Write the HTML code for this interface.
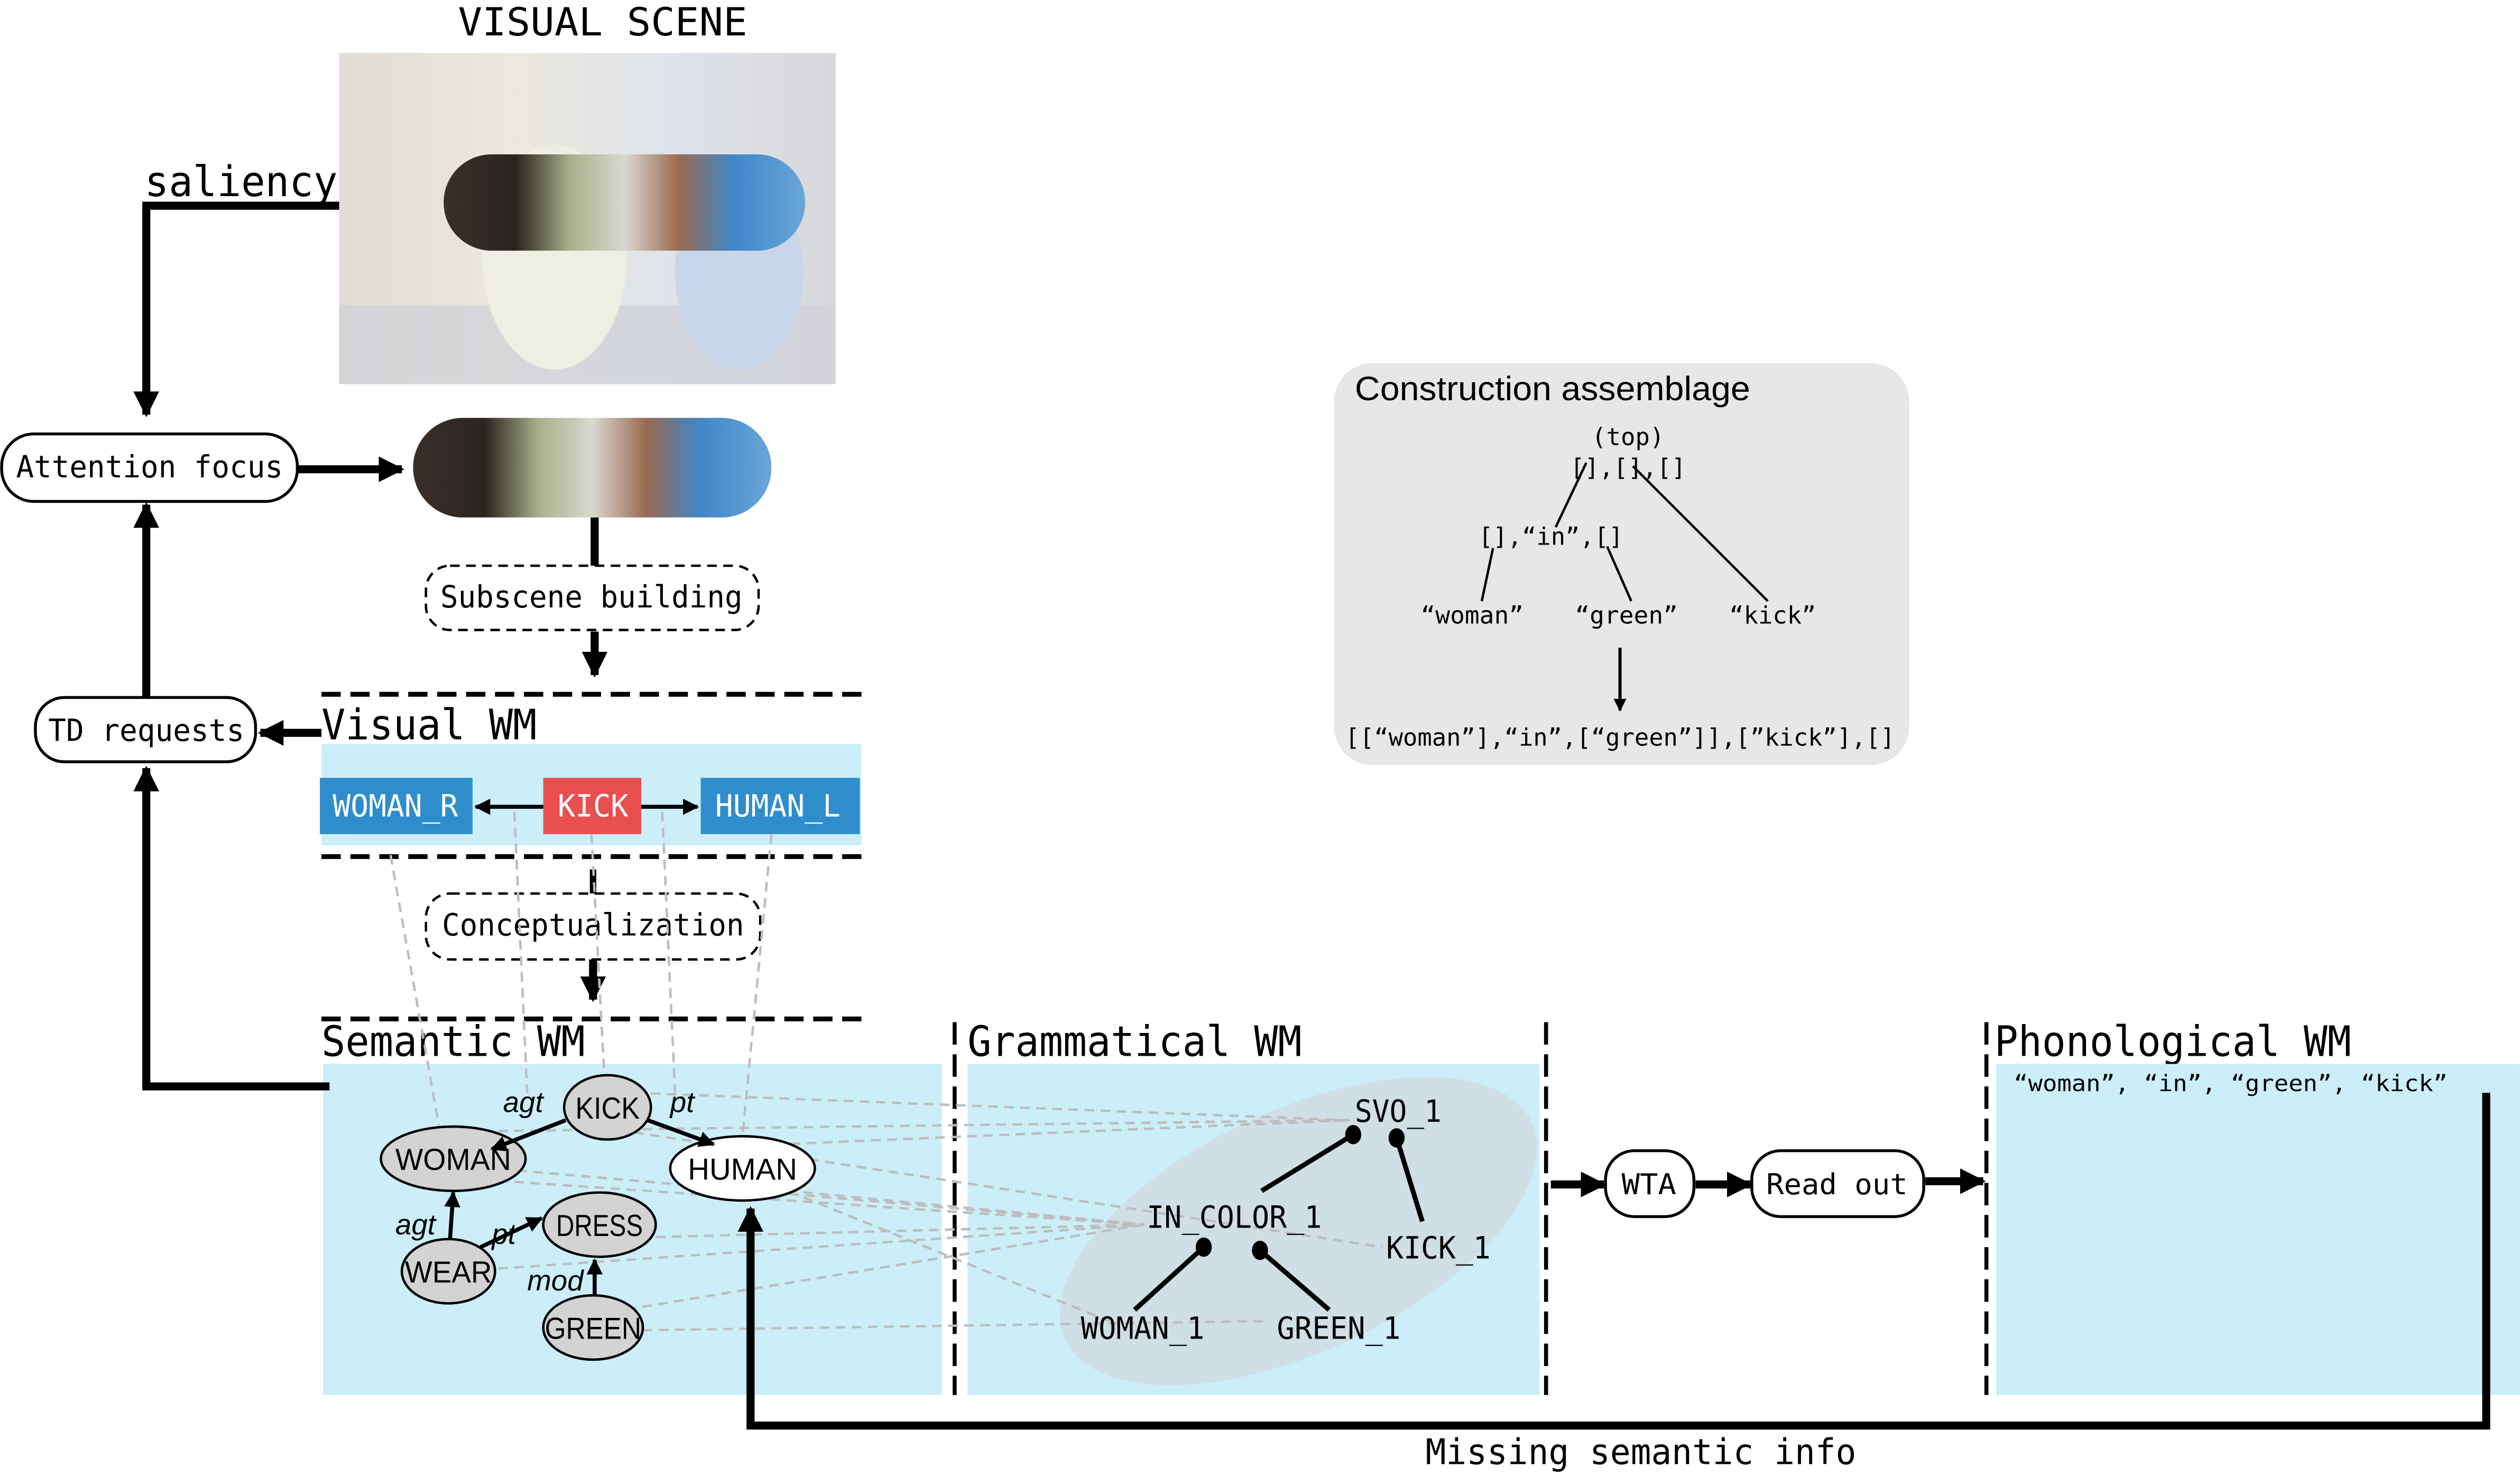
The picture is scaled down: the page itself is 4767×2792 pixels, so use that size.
<!DOCTYPE html>
<html><head><meta charset="utf-8"><style>
html,body{margin:0;padding:0;background:#fff;}
svg{display:block;}
text{font-family:"DejaVu Sans Mono","Liberation Mono",monospace;}
.s{font-family:"Liberation Sans",sans-serif;}
</style></head><body>
<svg width="4767" height="2792" viewBox="0 0 1568 918.4" xmlns="http://www.w3.org/2000/svg">
<defs>
<marker id="ah" viewBox="0 0 10 10" refX="9" refY="5" markerWidth="3.2" markerHeight="3.2" orient="auto-start-reverse" markerUnits="strokeWidth"><path d="M0,0L10,5L0,10z" fill="#000"/></marker>
<marker id="as" viewBox="0 0 10 10" refX="9" refY="5" markerWidth="4" markerHeight="4" orient="auto-start-reverse" markerUnits="strokeWidth"><path d="M0,0L10,5L0,10z" fill="#000"/></marker>
<linearGradient id="ph" x1="0" y1="0" x2="1" y2="0">
<stop offset="0" stop-color="#e2dcd4"/><stop offset="0.35" stop-color="#ebe8de"/><stop offset="0.65" stop-color="#dfe3ea"/><stop offset="1" stop-color="#d8d8dc"/></linearGradient>
<linearGradient id="pill" x1="0" y1="0" x2="1" y2="0">
<stop offset="0" stop-color="#3a2f2a"/><stop offset="0.2" stop-color="#2a2420"/><stop offset="0.35" stop-color="#a9b08a"/><stop offset="0.5" stop-color="#d9d8d0"/><stop offset="0.65" stop-color="#9a6a50"/><stop offset="0.8" stop-color="#3f86c8"/><stop offset="1" stop-color="#6aa6d8"/></linearGradient>
<clipPath id="pc"><rect x="257" y="260" width="223" height="62" rx="31"/></clipPath>
<clipPath id="pc2"><rect x="276" y="96" width="225" height="60" rx="30"/></clipPath>
</defs>

<text x="375" y="22" font-size="24" text-anchor="middle" textLength="180" lengthAdjust="spacingAndGlyphs">VISUAL SCENE</text>
<rect x="211" y="33" width="309" height="206" fill="url(#ph)"/>
<rect x="211" y="190" width="309" height="49" fill="#cfd0d8" opacity="0.7"/>
<ellipse cx="345" cy="160" rx="45" ry="70" fill="#eeeee2"/>
<ellipse cx="460" cy="170" rx="40" ry="60" fill="#c9d6ea"/>
<g clip-path="url(#pc2)"><rect x="276" y="96" width="225" height="60" fill="url(#pill)"/></g>
<g clip-path="url(#pc)"><rect x="257" y="260" width="223" height="62" fill="url(#pill)"/></g>

<text x="90" y="122" font-size="26" textLength="120" lengthAdjust="spacingAndGlyphs">saliency</text>
<polyline points="211,128 91,128 91,258" fill="none" stroke="#000" stroke-width="5" marker-end="url(#ah)"/>

<rect x="1" y="270" width="184" height="42" rx="20" fill="#fff" stroke="#000" stroke-width="1.8"/>
<text x="93" y="297" font-size="19" text-anchor="middle" textLength="166" lengthAdjust="spacingAndGlyphs">Attention focus</text>
<line x1="185" y1="292" x2="250" y2="292" stroke="#000" stroke-width="5" marker-end="url(#ah)"/>

<line x1="370" y1="322" x2="370" y2="352" stroke="#000" stroke-width="5"/>
<rect x="265" y="352" width="207" height="40" rx="15" fill="#fff" stroke="#000" stroke-width="1.5" stroke-dasharray="6,4"/>
<text x="368" y="378" font-size="19" text-anchor="middle" textLength="188" lengthAdjust="spacingAndGlyphs">Subscene building</text>
<line x1="370" y1="393" x2="370" y2="420" stroke="#000" stroke-width="5" marker-end="url(#ah)"/>

<line x1="200" y1="432" x2="537" y2="432" stroke="#000" stroke-width="3" stroke-dasharray="12,6"/>
<text x="200" y="460" font-size="26" textLength="134" lengthAdjust="spacingAndGlyphs">Visual WM</text>
<rect x="22" y="434" width="137" height="40" rx="18" fill="#fff" stroke="#000" stroke-width="1.8"/>
<text x="91" y="461" font-size="19" text-anchor="middle" textLength="122" lengthAdjust="spacingAndGlyphs">TD requests</text>
<line x1="200" y1="456" x2="162" y2="456" stroke="#000" stroke-width="5" marker-end="url(#ah)"/>
<line x1="91" y1="434" x2="91" y2="314" stroke="#000" stroke-width="5" marker-end="url(#ah)"/>

<rect x="200" y="463" width="336" height="63" fill="#cbeef9"/>
<rect x="199" y="484" width="95" height="35" fill="#2f8dcb"/>
<rect x="338" y="484" width="61" height="35" fill="#e94f4f"/>
<rect x="436" y="484" width="99" height="35" fill="#2f8dcb"/>
<text x="246" y="508" font-size="19" fill="#fff" text-anchor="middle" textLength="78" lengthAdjust="spacingAndGlyphs">WOMAN_R</text>
<text x="369" y="508" font-size="19" fill="#fff" text-anchor="middle" textLength="44" lengthAdjust="spacingAndGlyphs">KICK</text>
<text x="484" y="508" font-size="19" fill="#fff" text-anchor="middle" textLength="78" lengthAdjust="spacingAndGlyphs">HUMAN_L</text>
<line x1="338" y1="502" x2="296" y2="502" stroke="#000" stroke-width="2.5" marker-end="url(#as)"/>
<line x1="399" y1="502" x2="434" y2="502" stroke="#000" stroke-width="2.5" marker-end="url(#as)"/>
<line x1="200" y1="533" x2="537" y2="533" stroke="#000" stroke-width="3" stroke-dasharray="12,6"/>

<line x1="369" y1="541" x2="369" y2="556" stroke="#000" stroke-width="4"/>
<rect x="265" y="556" width="208" height="41" rx="15" fill="#fff" stroke="#000" stroke-width="1.5" stroke-dasharray="6,4"/>
<text x="369" y="582" font-size="19" text-anchor="middle" textLength="188" lengthAdjust="spacingAndGlyphs">Conceptualization</text>
<line x1="369" y1="597" x2="369" y2="622" stroke="#000" stroke-width="5" marker-end="url(#ah)"/>
<line x1="200" y1="634" x2="537" y2="634" stroke="#000" stroke-width="3" stroke-dasharray="12,6"/>
<text x="200" y="657" font-size="26" textLength="164" lengthAdjust="spacingAndGlyphs">Semantic WM</text>

<rect x="201" y="662" width="385" height="206" fill="#cbeef9"/>
<polyline points="205,676 91,676 91,478" fill="none" stroke="#000" stroke-width="5" marker-end="url(#ah)"/>

<line x1="594" y1="636" x2="594" y2="868" stroke="#000" stroke-width="2.5" stroke-dasharray="14,6"/>
<text x="602" y="657" font-size="26" textLength="208" lengthAdjust="spacingAndGlyphs">Grammatical WM</text>
<rect x="602" y="662" width="356" height="206" fill="#cbeef9"/>
<ellipse cx="808" cy="766" rx="160" ry="75" transform="rotate(-25 808 766)" fill="#d0dee6"/>

<g stroke="#bdbdbd" stroke-width="1.5" stroke-dasharray="6,4" fill="none">
<line x1="243" y1="532" x2="273" y2="700"/>
<line x1="320" y1="505" x2="328" y2="680"/>
<line x1="368" y1="519" x2="376" y2="669"/>
<line x1="412" y1="505" x2="420" y2="680"/>
<line x1="480" y1="519" x2="462" y2="707"/>
<line x1="395" y1="680" x2="840" y2="697"/>
<line x1="290" y1="704" x2="840" y2="697"/>
<line x1="462" y1="713" x2="840" y2="697"/>
<line x1="272" y1="724" x2="712" y2="762"/>
<line x1="300" y1="734" x2="712" y2="762"/>
<line x1="480" y1="740" x2="712" y2="762"/>
<line x1="398" y1="770" x2="712" y2="762"/>
<line x1="370" y1="818" x2="712" y2="762"/>
<line x1="365" y1="700" x2="860" y2="776"/>
<line x1="300" y1="790" x2="712" y2="762"/>
<line x1="500" y1="745" x2="690" y2="822"/>
<line x1="380" y1="828" x2="790" y2="822"/>
</g>

<ellipse cx="378" cy="689" rx="27" ry="20" fill="#d3d3d3" stroke="#000" stroke-width="1.5"/>
<ellipse cx="282" cy="721" rx="45" ry="20" fill="#d3d3d3" stroke="#000" stroke-width="1.5"/>
<ellipse cx="462" cy="727" rx="45" ry="20" fill="#fff" stroke="#000" stroke-width="1.5"/>
<ellipse cx="373" cy="762" rx="35" ry="20" fill="#d3d3d3" stroke="#000" stroke-width="1.5"/>
<ellipse cx="279" cy="791" rx="29" ry="20" fill="#d3d3d3" stroke="#000" stroke-width="1.5"/>
<ellipse cx="369" cy="826" rx="31" ry="20" fill="#d3d3d3" stroke="#000" stroke-width="1.5"/>
<g class="s" font-size="19" text-anchor="middle">
<text class="s" x="378" y="696" textLength="40" lengthAdjust="spacingAndGlyphs">KICK</text>
<text class="s" x="282" y="728" textLength="72" lengthAdjust="spacingAndGlyphs">WOMAN</text>
<text class="s" x="462" y="734" textLength="68" lengthAdjust="spacingAndGlyphs">HUMAN</text>
<text class="s" x="373" y="769" textLength="54" lengthAdjust="spacingAndGlyphs">DRESS</text>
<text class="s" x="279" y="798" textLength="54" lengthAdjust="spacingAndGlyphs">WEAR</text>
<text class="s" x="369" y="833" textLength="60" lengthAdjust="spacingAndGlyphs">GREEN</text>
</g>
<g class="s" font-size="18" font-style="italic">
<text class="s" x="313" y="692">agt</text>
<text class="s" x="417" y="692">pt</text>
<text class="s" x="246" y="768">agt</text>
<text class="s" x="306" y="774">pt</text>
<text class="s" x="328" y="803">mod</text>
</g>
<g stroke="#000" stroke-width="2.5">
<line x1="352" y1="697" x2="306" y2="715" marker-end="url(#as)"/>
<line x1="403" y1="697" x2="444" y2="712" marker-end="url(#as)"/>
<line x1="280" y1="771" x2="282" y2="742" marker-end="url(#as)"/>
<line x1="299" y1="776" x2="337" y2="758" marker-end="url(#as)"/>
<line x1="370" y1="806" x2="370" y2="784" marker-end="url(#as)"/>
</g>

<g font-size="19" text-anchor="middle">
<text x="870" y="698" textLength="54" lengthAdjust="spacingAndGlyphs">SVO_1</text>
<text x="768" y="764" textLength="109" lengthAdjust="spacingAndGlyphs">IN_COLOR_1</text>
<text x="895" y="783" textLength="65" lengthAdjust="spacingAndGlyphs">KICK_1</text>
<text x="711" y="833" textLength="77" lengthAdjust="spacingAndGlyphs">WOMAN_1</text>
<text x="833" y="833" textLength="77" lengthAdjust="spacingAndGlyphs">GREEN_1</text>
</g>
<g stroke="#000" stroke-width="3">
<line x1="842" y1="706" x2="785" y2="741"/>
<line x1="869" y1="708" x2="885" y2="760"/>
<line x1="749" y1="776" x2="706" y2="815"/>
<line x1="784" y1="778" x2="827" y2="815"/>
</g>
<g fill="#000">
<ellipse cx="842" cy="706" rx="5" ry="6"/><ellipse cx="869" cy="708" rx="5" ry="6"/>
<ellipse cx="749" cy="776" rx="5" ry="6"/><ellipse cx="784" cy="778" rx="5" ry="6"/>
</g>

<line x1="962" y1="636" x2="962" y2="868" stroke="#000" stroke-width="2.5" stroke-dasharray="14,6"/>
<rect x="999" y="716" width="55" height="41" rx="18" fill="#fff" stroke="#000" stroke-width="1.8"/>
<text x="1026" y="743" font-size="18" text-anchor="middle" textLength="34" lengthAdjust="spacingAndGlyphs">WTA</text>
<rect x="1090" y="716" width="107" height="41" rx="18" fill="#fff" stroke="#000" stroke-width="1.8"/>
<text x="1143" y="743" font-size="18" text-anchor="middle" textLength="88" lengthAdjust="spacingAndGlyphs">Read out</text>
<g stroke="#000" stroke-width="5">
<line x1="965" y1="737" x2="998" y2="737" marker-end="url(#ah)"/>
<line x1="1055" y1="737" x2="1089" y2="737" marker-end="url(#ah)"/>
<line x1="1198" y1="735" x2="1234" y2="735" marker-end="url(#ah)"/>
</g>

<line x1="1236" y1="636" x2="1236" y2="868" stroke="#000" stroke-width="2.5" stroke-dasharray="14,6"/>
<text x="1241" y="657" font-size="26" textLength="222" lengthAdjust="spacingAndGlyphs">Phonological WM</text>
<rect x="1242" y="662" width="326" height="206" fill="#cbeef9"/>
<text x="1253" y="679" font-size="14" textLength="270" lengthAdjust="spacingAndGlyphs">“woman”, “in”, “green”, “kick”</text>

<polyline points="1547,680 1547,887 467,887 467,752" fill="none" stroke="#000" stroke-width="5" marker-end="url(#ah)"/>
<text x="1021" y="911" font-size="22" text-anchor="middle" textLength="268" lengthAdjust="spacingAndGlyphs">Missing semantic info</text>

<rect x="830" y="226" width="358" height="250" rx="24" fill="#e6e7e9"/>
<text class="s" x="843" y="249" font-size="21" textLength="246" lengthAdjust="spacingAndGlyphs">Construction assemblage</text>
<g font-size="15" text-anchor="middle">
<text x="1013" y="277">(top)</text>
<text x="1013" y="296" textLength="72" lengthAdjust="spacingAndGlyphs">[],[],[]</text>
<text x="965" y="339" textLength="90" lengthAdjust="spacingAndGlyphs">[],“in”,[]</text>
<text x="916" y="388" textLength="64" lengthAdjust="spacingAndGlyphs">“woman”</text>
<text x="1012" y="388" textLength="64" lengthAdjust="spacingAndGlyphs">“green”</text>
<text x="1103" y="388" textLength="54" lengthAdjust="spacingAndGlyphs">“kick”</text>
<text x="1008" y="464" textLength="342" lengthAdjust="spacingAndGlyphs">[[“woman”],“in”,[“green”]],[”kick”],[]</text>
</g>
<g stroke="#000" stroke-width="1.5">
<line x1="987" y1="288" x2="968" y2="328"/>
<line x1="1016" y1="290" x2="1100" y2="374"/>
<line x1="929" y1="341" x2="922" y2="374"/>
<line x1="1000" y1="340" x2="1015" y2="374"/>
<line x1="1008" y1="403" x2="1008" y2="442" stroke-width="2" marker-end="url(#as)"/>
</g>
</svg>
</body></html>
